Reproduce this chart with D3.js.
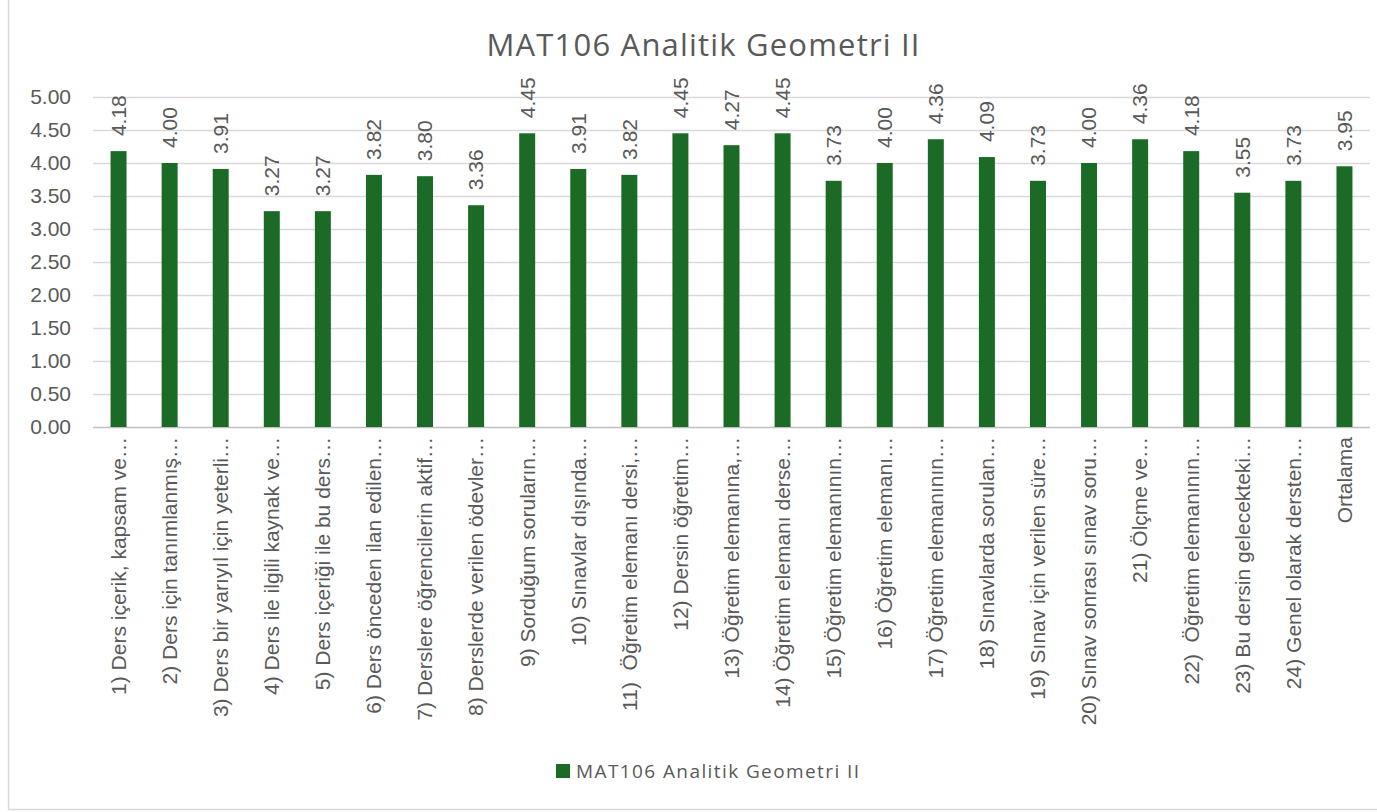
<!DOCTYPE html>
<html>
<head>
<meta charset="utf-8">
<script src="https://cdn.jsdelivr.net/npm/d3@7"></script>
<style>
  body { margin: 0; background: #fff; }
  text { font-family: "Liberation Sans", Arial, sans-serif; fill: #595959; white-space: pre; }
  .title, .legend-text { font-family: "Open Sans", "Noto Sans", sans-serif; }
</style>
</head>
<body>
<svg id="chart" width="1377" height="812"></svg>
<script>
// chart data
var chartTitle = "MAT106 Analitik Geometri II";
var seriesName = "MAT106 Analitik Geometri II";
var categories = [
    "1) Ders içerik, kapsam ve…",
    "2) Ders için tanımlanmış…",
    "3) Ders bir yarıyıl için yeterli…",
    "4) Ders ile ilgili kaynak ve…",
    "5) Ders içeriği ile bu ders…",
    "6) Ders önceden ilan edilen…",
    "7) Derslere öğrencilerin aktif…",
    "8) Derslerde verilen ödevler…",
    "9) Sorduğum soruların…",
    "10) Sınavlar dışında…",
    "11)  Öğretim elemanı dersi,…",
    "12) Dersin öğretim…",
    "13) Öğretim elemanına,…",
    "14) Öğretim elemanı derse…",
    "15) Öğretim elemanının…",
    "16) Öğretim elemanı…",
    "17) Öğretim elemanının…",
    "18) Sınavlarda sorulan…",
    "19) Sınav için verilen süre…",
    "20) Sınav sonrası sınav soru…",
    "21) Ölçme ve…",
    "22)  Öğretim elemanının…",
    "23) Bu dersin gelecekteki…",
    "24) Genel olarak dersten…",
    "Ortalama"
];
var values = [4.18, 4.00, 3.91, 3.27, 3.27, 3.82, 3.80, 3.36, 4.45, 3.91,
              3.82, 4.45, 4.27, 4.45, 3.73, 4.00, 4.36, 4.09, 3.73, 4.00,
              4.36, 4.18, 3.55, 3.73, 3.95];
var yTicks = [0, 0.5, 1, 1.5, 2, 2.5, 3, 3.5, 4, 4.5, 5];

var barColor = "#1b6a26";

var svg = d3.select("#chart");

// outer frame
svg.append("rect")
    .attr("x", 8.5).attr("y", -2)
    .attr("width", 1380).attr("height", 811.5)
    .attr("fill", "none")
    .attr("stroke", "#d9d9d9")
    .attr("stroke-width", 1.5);

var plotLeft = 93, plotRight = 1370, plotTop = 97, plotBottom = 427;

var x = d3.scaleBand()
    .domain(categories)
    .range([plotLeft, plotRight])
    .paddingInner(0.687)
    .paddingOuter(0.687 / 2);

var y = d3.scaleLinear()
    .domain([0, 5])
    .range([plotBottom, plotTop]);

// gridlines
svg.append("g")
    .selectAll("line")
    .data(yTicks)
    .enter()
    .append("line")
    .attr("x1", plotLeft)
    .attr("x2", plotRight)
    .attr("y1", function(d){ return Math.round(y(d)) + 0.5; })
    .attr("y2", function(d){ return Math.round(y(d)) + 0.5; })
    .attr("stroke", function(d){ return d === 0 ? "#bfbfbf" : "#d9d9d9"; })
    .attr("stroke-width", 1.3);

// y axis labels
var yAxis = d3.axisLeft(y)
    .tickValues(yTicks)
    .tickFormat(d3.format(".2f"))
    .tickSize(0)
    .tickPadding(0);

var yg = svg.append("g")
    .attr("transform", "translate(71,0)")
    .call(yAxis);
yg.select(".domain").remove();
yg.selectAll("text")
    .attr("font-size", 21)
    .attr("font-family", "Liberation Sans, Arial, sans-serif")
    .attr("fill", "#595959");

// bars
svg.append("g")
    .selectAll("rect")
    .data(values)
    .enter()
    .append("rect")
    .attr("x", function(d, i){ return x(categories[i]); })
    .attr("width", x.bandwidth())
    .attr("y", function(d){ return y(d); })
    .attr("height", function(d){ return plotBottom - y(d); })
    .attr("fill", barColor);

// value labels (rotated)
svg.append("g")
    .selectAll("text")
    .data(values)
    .enter()
    .append("text")
    .attr("transform", function(d, i){
        var cx = x(categories[i]) + x.bandwidth() / 2;
        return "translate(" + cx + "," + (y(d) - 15) + ") rotate(-90)";
    })
    .attr("dy", "0.35em")
    .attr("font-size", 21)
    .attr("text-anchor", "start")
    .text(function(d){ return d.toFixed(2); });

// category labels (rotated)
var xAxis = d3.axisBottom(x).tickSize(0).tickPadding(0);
var xg = svg.append("g")
    .attr("transform", "translate(0," + plotBottom + ")")
    .call(xAxis);
xg.select(".domain").remove();
xg.selectAll("text")
    .attr("font-size", 21)
    .attr("font-family", "Liberation Sans, Arial, sans-serif")
    .attr("fill", "#595959")
    .attr("text-anchor", "end")
    .attr("transform", "rotate(-90)")
    .attr("x", -10)
    .attr("y", 0)
    .attr("dy", "0.35em");

// title
svg.append("text")
    .attr("class", "title")
    .attr("x", 703)
    .attr("y", 56)
    .attr("text-anchor", "middle")
    .attr("font-size", 31)
    .attr("textLength", 433)
    .attr("lengthAdjust", "spacing")
    .text(chartTitle);

// legend
var lg = svg.append("g").attr("transform", "translate(556,764)");
lg.append("rect")
    .attr("width", 14).attr("height", 14)
    .attr("fill", barColor);
lg.append("text")
    .attr("class", "legend-text")
    .attr("x", 20)
    .attr("y", 14)
    .attr("font-size", 19)
    .attr("textLength", 283)
    .attr("lengthAdjust", "spacing")
    .text(seriesName);
</script>
</body>
</html>
